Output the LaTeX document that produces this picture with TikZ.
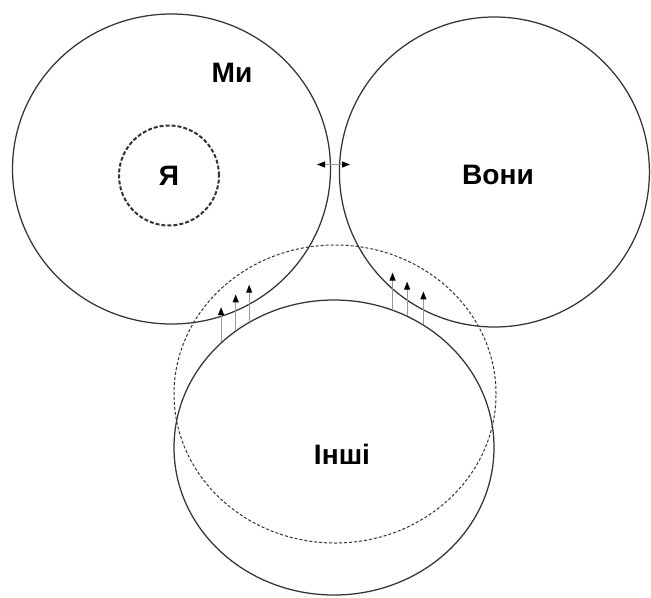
\documentclass[tikz,border=0pt]{standalone}
\usepackage{fontspec}
\setmainfont{Liberation Sans}
\usetikzlibrary{arrows.meta, shapes.geometric, positioning, calc}

\begin{document}
\begin{tikzpicture}[x=0.2mm, y=-0.2mm,
        group/.style={ellipse, draw=black!80, line width=0.25mm, inner sep=0pt},
        lbl/.style={font=\bfseries\fontsize{16}{19}\selectfont},
        flow/.style={draw=black!40, line width=0.2mm, -{Triangle[length=1.6mm, width=1.2mm, black]}},
        link/.style={flow, {Triangle[length=1.6mm, width=1.2mm, black]}-{Triangle[length=1.6mm, width=1.2mm, black]}}]
        \useasboundingbox (0,0) rectangle (651,597);

        \node[group, minimum width=63.6mm, minimum height=62mm] (we) at (171.5,169) {};
        \node[group, minimum width=62mm, minimum height=62mm] (they) at (494.4,172) {};
        \node[group, minimum width=64mm, minimum height=59mm] (others) at (334,447.5) {};
        \node[group, dash pattern=on 0.6mm off 0.4mm, line width=0.2mm, minimum width=64.4mm, minimum height=59.6mm] (reach) at (335,394) {};
        \node[group, dash pattern=on 0.8mm off 0.4mm, line width=0.4mm, minimum size=20mm] (me) at (169,175.5) {};

        \node[lbl] (we label) at (232,72.5) {Ми};
        \node[lbl] (me label) at (me) {Я};
        \node[lbl] (they label) at (498,174.5) {Вони};
        \node[lbl] (others label) at (342,454) {Інші};

        % Ми <-> Вони
        \coordinate (link we) at (317,164.5);
        \coordinate (link they) at (350,164.5);
        \draw[link] (link we) -- (link they);

        % Інші -> Ми, Інші -> Вони
        \foreach \a/\h in {137/35, 130/36, 124/37}
            \draw[flow] (others.\a) -- ++(0,-\h);
        \foreach \a/\h in {67/37, 61/34, 54/33}
            \draw[flow] (others.\a) -- ++(0,-\h);
\end{tikzpicture}
\end{document}
